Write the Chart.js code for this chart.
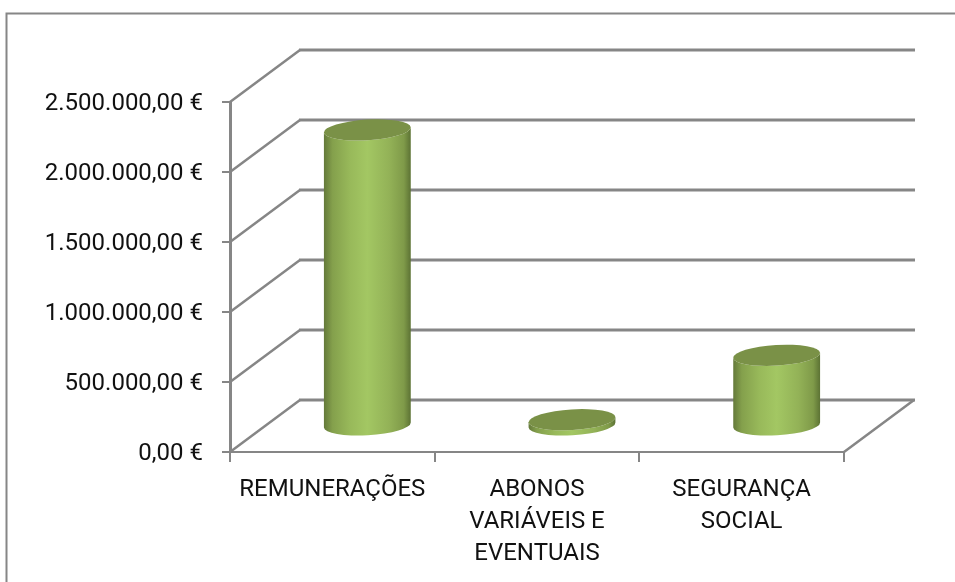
<!DOCTYPE html>
<html lang="pt">
<head>
<meta charset="utf-8">
<title>Despesas com pessoal</title>
<script src="https://cdn.jsdelivr.net/npm/chart.js@4"></script>
<style>
  html, body { margin: 0; padding: 0; background: #fff; overflow: hidden; }
  canvas { display: block; }
</style>
</head>
<body>
<canvas id="chart" width="955" height="582"></canvas>
<script>
// Dados
const categories = ["REMUNERAÇÕES", ["ABONOS", "VARIÁVEIS E", "EVENTUAIS"], ["SEGURANÇA", "SOCIAL"]];
const values = [2115000, 45000, 505000];
const yTickLabels = ["0,00 €", "500.000,00 €", "1.000.000,00 €", "1.500.000,00 €", "2.000.000,00 €", "2.500.000,00 €"];
const yStep = 500000;
const yMax = 2500000;

const gray = "#868686";
const depthX = 70, depthY = -52;

// Paredes 3D e moldura, por trás das barras
const walls = {
    id: "walls",
    afterUpdate(chart) {
        // rótulos do eixo y um pouco mais abaixo, como no original
        chart.scales.y.getLabelItems().forEach(item => { item.options.translation[1] += 2; });
    },
    beforeDatasetsDraw(chart) {
        const { ctx, scales, chartArea } = chart;
        ctx.save();
        ctx.strokeStyle = gray;
        ctx.lineWidth = 2;
        ctx.beginPath();
        ctx.moveTo(6.5, 582);
        ctx.lineTo(6.5, 13.5);
        ctx.lineTo(955, 13.5);
        ctx.stroke();

        scales.y.ticks.forEach(t => {
            const y = scales.y.getPixelForValue(t.value);
            ctx.lineWidth = 2.5;
            ctx.beginPath();
            ctx.moveTo(chartArea.left, y);
            ctx.lineTo(chartArea.left + depthX, y + depthY);
            ctx.stroke();
            ctx.lineWidth = 3;
            ctx.beginPath();
            ctx.moveTo(chartArea.left + depthX - 1, y + depthY);
            ctx.lineTo(chartArea.right + depthX + 1, y + depthY);
            ctx.stroke();
        });
        ctx.lineWidth = 2.5;
        ctx.beginPath();
        ctx.moveTo(chartArea.right, chartArea.bottom);
        ctx.lineTo(chartArea.right + depthX, chartArea.bottom + depthY);
        ctx.stroke();
        ctx.restore();
    }
};

// Cilindros: a posição vem dos elementos de barra do Chart.js
const cylinders = {
    id: "cylinders",
    beforeDatasetDraw(chart, args) {
        const { ctx } = chart;
        const ry = 10.3, tilt = -0.06;
        args.meta.data.forEach(bar => {
            const cx = bar.x + depthX / 2;
            const rx = bar.width / 2;
            const top = bar.y + depthY / 2;
            const base = bar.base + depthY / 2;
            const g = ctx.createLinearGradient(cx - rx, 0, cx + rx, 0);
            g.addColorStop(0, "#64793a");
            g.addColorStop(0.1, "#84a04c");
            g.addColorStop(0.3, "#98b95a");
            g.addColorStop(0.5, "#a3c763");
            g.addColorStop(0.75, "#93b257");
            g.addColorStop(0.92, "#7f9a49");
            g.addColorStop(1, "#5c7234");
            ctx.save();
            ctx.fillStyle = g;
            ctx.beginPath();
            ctx.ellipse(cx, base, rx, ry, tilt, Math.PI, 0, true);
            ctx.ellipse(cx, top, rx, ry, tilt, 0, Math.PI, false);
            ctx.closePath();
            ctx.fill();
            ctx.fillStyle = "#7a9147";
            ctx.beginPath();
            ctx.ellipse(cx, top, rx, ry, tilt, 0, Math.PI * 2);
            ctx.fill();
            ctx.restore();
        });
        return false;
    }
};

new Chart(document.getElementById("chart").getContext("2d"), {
    type: "bar",
    data: {
        labels: categories,
        datasets: [{
            data: values,
            backgroundColor: "#9bbb59",
            categoryPercentage: 1,
            barPercentage: 0.425
        }]
    },
    options: {
        responsive: false,
        animation: false,
        layout: { padding: { top: 102, right: 111, left: 0, bottom: 0 } },
        plugins: { legend: { display: false }, tooltip: { enabled: false } },
        scales: {
            x: {
                afterFit(scale) { scale.height = 130; },
                grid: { drawOnChartArea: false, color: gray, lineWidth: 2, tickLength: 10 },
                border: { color: gray, width: 2 },
                ticks: {
                    color: "#111",
                    font: { family: "Roboto, sans-serif", size: 24, lineHeight: 1.33 },
                    padding: 12,
                    maxRotation: 0,
                    autoSkip: false
                }
            },
            y: {
                min: 0,
                max: yMax,
                afterFit(scale) { scale.width = 230; },
                grid: { drawOnChartArea: false, color: gray, lineWidth: 2, tickLength: 8 },
                border: { color: gray, width: 3 },
                ticks: {
                    stepSize: yStep,
                    color: "#111",
                    font: { family: "Roboto, sans-serif", size: 24 },
                    padding: 19,
                    callback: (v, i) => yTickLabels[i]
                }
            }
        }
    },
    plugins: [walls, cylinders]
});
</script>
</body>
</html>
